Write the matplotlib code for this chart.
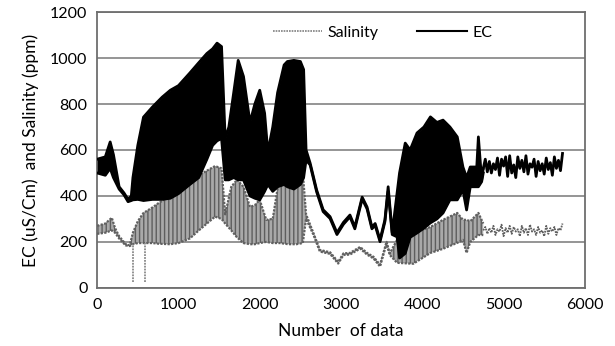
import numpy as np
import matplotlib.pyplot as plt
from matplotlib.lines import Line2D

plt.rcParams['font.family'] = ['Lato', 'DejaVu Sans']

# EC envelope (upper / lower) along the sample index
ec_x = [0, 100, 160, 200, 270, 330, 380, 420, 440, 500, 570, 680, 800, 900, 1000,
        1140, 1250, 1350, 1420, 1475, 1530, 1575, 1620, 1680, 1735, 1800, 1880, 1940,
        2000, 2060, 2100, 2160, 2220, 2300, 2340, 2420, 2500, 2540, 2570, 2620, 2700,
        2780, 2865, 2950, 3030, 3110, 3170, 3260, 3320, 3380, 3420, 3480, 3540, 3580,
        3630, 3690, 3720, 3790, 3850, 3935, 4020, 4100, 4180, 4255, 4340, 4430, 4500,
        4545, 4590, 4670, 4690, 4730, 4750]
ec_upper = [560, 570, 635, 580, 440, 413, 385, 400, 480, 620, 743, 787, 830, 860, 880,
            935, 980, 1020, 1040, 1065, 1050, 650, 700, 850, 990, 920, 720, 800,
            860, 760, 590, 700, 850, 970, 985, 990, 985, 950, 600, 543, 426,
            340, 310, 240, 285, 317, 265, 395, 352, 265, 280, 209, 296, 440,
            240, 413, 500, 630, 600, 674, 700, 744, 720, 730, 700, 657, 526,
            480, 526, 526, 657, 470, 520]
ec_lower = [500, 490, 520, 480, 430, 405, 375, 380, 383, 385, 380, 385, 385, 390, 410,
            450, 480, 560, 620, 640, 650, 470, 470, 480, 470, 470, 400, 390,
            383, 420, 450, 420, 440, 450, 440, 430, 450, 480, 556, 535, 418,
            332, 302, 232, 277, 309, 257, 387, 344, 257, 272, 201, 288, 420,
            232, 222, 130, 150, 220, 239, 260, 283, 300, 326, 383, 383, 426,
            339, 440, 440, 440, 462, 500]

# EC after ~4750 samples (single wiggly trace)
ec_tail_x = list(range(4750, 5750, 25))
ec_tail = [520, 560, 505, 550, 500, 540, 515, 565, 490, 560, 530, 570, 485, 575, 500,
           535, 480, 570, 520, 555, 505, 575, 495, 540, 525, 560, 485, 550, 510, 540,
           495, 565, 515, 545, 490, 570, 520, 555, 510, 585]

# Salinity envelope
sal_x = [0, 100, 180, 220, 270, 350, 400, 440, 500, 570, 680, 760, 900, 1000, 1140,
         1250, 1350, 1450, 1530, 1575, 1650, 1720, 1800, 1880, 1940, 2000, 2080, 2160,
         2250, 2350, 2450, 2530, 2570, 2660, 2740, 2865, 2965, 3030, 3110, 3235, 3320,
         3400, 3480, 3560, 3600, 3690, 3890, 4100, 4255, 4430, 4500, 4545, 4590, 4690,
         4750]
sal_upper = [270, 280, 305, 260, 225, 190, 185, 240, 290, 326, 350, 370, 400, 426, 470,
             490, 510, 530, 520, 320, 440, 470, 440, 352, 360, 383, 296, 300,
             500, 490, 483, 500, 320, 239, 165, 155, 113, 150, 152, 178, 152,
             135, 100, 200, 150, 209, 239, 265, 296, 326, 296, 296, 290, 326,
             280]
sal_lower = [235, 240, 250, 240, 215, 185, 182, 190, 195, 195, 195, 192, 190, 195, 215,
             250, 280, 310, 300, 280, 250, 220, 195, 190, 190, 195, 200, 195,
             195, 190, 190, 195, 300, 232, 158, 148, 106, 143, 145, 171, 145,
             128, 93, 193, 143, 109, 105, 152, 170, 196, 209, 152, 200, 230,
             230]

sal_tail_x = list(range(4750, 5750, 25))
sal_tail = [250, 265, 235, 260, 240, 270, 230, 255, 245, 275, 225, 260, 240, 270, 235,
            265, 245, 255, 225, 270, 240, 260, 230, 275, 245, 255, 230, 265, 240, 250,
            225, 270, 235, 260, 245, 265, 230, 260, 250, 280]

# two isolated low readings
spike_x = [440, 590]
spike_top = [190, 195]
spike_low = [25, 25]

fig = plt.figure(figsize=(6.15, 3.46), dpi=100)
ax = fig.add_axes([0.158, 0.168, 0.793, 0.797])

# salinity
ax.fill_between(sal_x, sal_lower, sal_upper, facecolor='#a9a9a9', edgecolor='#5e5e5e',
                hatch='||||', linewidth=0, zorder=2)
ax.plot(sal_x, sal_upper, color='#606060', lw=1.6, ls=(0, (1, 0.6)), zorder=3)
ax.plot(sal_x, sal_lower, color='#606060', lw=1.6, ls=(0, (1, 0.6)), zorder=3)
ax.plot(sal_tail_x, sal_tail, color='#606060', lw=1.3, ls=(0, (1, 0.6)), zorder=3)
ax.vlines(spike_x, spike_low, spike_top, color='#8a8a8a', lw=1.3, linestyles=(0, (1, 0.6)), zorder=3)

# EC
ax.fill_between(ec_x, ec_lower, ec_upper, color='black', lw=0, zorder=4)
ax.plot(ec_x, ec_upper, color='black', lw=2, zorder=5)
ax.plot(ec_x, ec_lower, color='black', lw=2, zorder=5)
ax.plot(ec_tail_x, ec_tail, color='black', lw=2, zorder=5)

ax.set_xlim(0, 6000)
ax.set_ylim(0, 1200)
ax.set_xticks(np.arange(0, 6001, 1000))
ax.set_yticks(np.arange(0, 1201, 200))
ax.yaxis.grid(True, color='#8c8c8c', lw=1.3)
ax.set_axisbelow(True)
ax.tick_params(length=0, labelsize=11.5, pad=7)
for s in ax.spines.values():
    s.set_color('#6e6e6e')
    s.set_linewidth(1.3)

ax.set_xlabel('Number  of data', fontsize=12.5, labelpad=8)
ax.set_ylabel('EC (uS/Cm)  and Salinity (ppm)', fontsize=12.5, labelpad=8)

handles = [Line2D([], [], color='#808080', lw=1.2, ls=(0, (1, 0.6))),
           Line2D([], [], color='black', lw=1.5)]
ax.legend(handles, ['Salinity', 'EC'], loc='center', bbox_to_anchor=(0.585, 0.925),
          ncol=2, frameon=False, fontsize=11.5, handlelength=3.1, columnspacing=2.4,
          handletextpad=0.35)

fig.savefig('out.png', dpi=100)
